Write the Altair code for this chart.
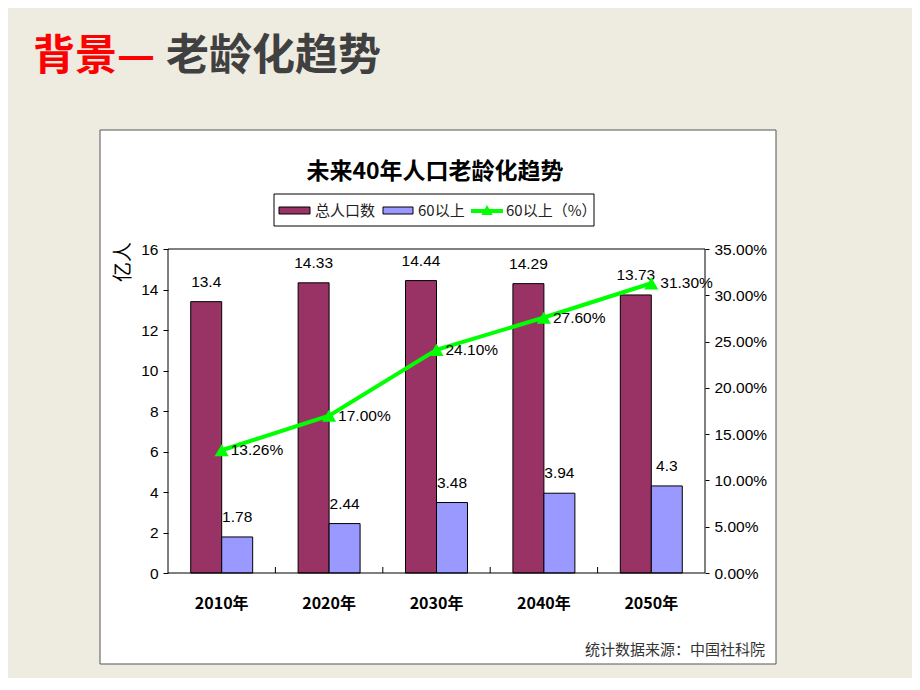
import altair as alt
import pandas as pd

# ---------------- data ----------------
years = ["2010年", "2020年", "2030年", "2040年", "2050年"]
series = ["总人口数", "60以上"]
total = [13.4, 14.33, 14.44, 14.29, 13.73]
elderly = [1.78, 2.44, 3.48, 3.94, 4.3]
total_labels = ["13.4", "14.33", "14.44", "14.29", "13.73"]
elderly_labels = ["1.78", "2.44", "3.48", "3.94", "4.3"]
elderly_pct = [0.1326, 0.17, 0.241, 0.276, 0.313]
pct_labels = ["13.26%", "17.00%", "24.10%", "27.60%", "31.30%"]
left_ticks = [0, 2, 4, 6, 8, 10, 12, 14, 16]
right_ticks = [0, 0.05, 0.10, 0.15, 0.20, 0.25, 0.30, 0.35]

bars_df = pd.DataFrame(
    [{"year": y, "series": series[0], "value": v, "label": l} for y, v, l in zip(years, total, total_labels)]
    + [{"year": y, "series": series[1], "value": v, "label": l} for y, v, l in zip(years, elderly, elderly_labels)]
)
line_df = pd.DataFrame({"year": years, "pct": elderly_pct, "label": pct_labels})
bound_df = pd.DataFrame({"year": years[1:]})

# ---------------- style ----------------
W, H = 537, 324
CJK = "Noto Sans CJK SC"
NUM = "Liberation Sans, Arial"
NUMSIZE = 15.5
MAROON, BLUE, GREEN = "#993366", "#9999FF", "#00FF00"
PI = 0.423
one = alt.Data(values=[{"k": 1}])

xscale = alt.Scale(domain=years, paddingInner=PI, paddingOuter=PI / 2)
xaxis = alt.Axis(title=None, labelFont=CJK, labelFontWeight="bold", labelFontSize=16, labelAngle=0,
                 labelColor="black", labelPadding=22, ticks=False, domain=False, zindex=1)
xenc = alt.X("year:N", sort=years, scale=xscale, axis=xaxis)

left_axis = alt.Axis(title=None, values=left_ticks, labelFont=NUM, labelFontSize=NUMSIZE,
                     labelColor="black", tickSize=5, tickColor="black", labelPadding=5,
                     domain=False, grid=False, zindex=1)
right_axis = alt.Axis(title=None, orient="right", values=right_ticks, format=".2%",
                      labelFont=NUM, labelFontSize=NUMSIZE, labelColor="black", tickSize=4,
                      tickColor="black", labelPadding=5, domain=False, grid=False, zindex=1)

# ---------------- decorations ----------------
white_box = alt.Chart(one).mark_rect(fill="white", stroke="#555555", strokeWidth=1).encode(
    x=alt.value(-68), x2=alt.value(608), y=alt.value(-119), y2=alt.value(415))

plot_border = alt.Chart(one).mark_rect(fillOpacity=0, stroke="black", strokeWidth=1).encode(
    x=alt.value(0), x2=alt.value(W), y=alt.value(0), y2=alt.value(H))

slide_title_red = alt.Chart(one).mark_text(
    text="背景—", font=CJK, fontSize=42, fontWeight="bold", color="#FF0000",
    align="left", baseline="middle").encode(x=alt.value(-135), y=alt.value(-192))
slide_title_dark = alt.Chart(one).mark_text(
    text="老龄化趋势", font=CJK, fontSize=43, fontWeight="bold", color="#404040",
    align="left", baseline="middle").encode(x=alt.value(-2), y=alt.value(-192))

chart_title = alt.Chart(one).mark_text(
    text="未来40年人口老龄化趋势", font=CJK, fontSize=23, fontWeight="bold", color="black",
    align="center", baseline="middle").encode(x=alt.value(267), y=alt.value(-77))

y_title = alt.Chart(one).mark_text(
    text="亿人", font=CJK, fontSize=20, color="black", angle=270,
    align="center", baseline="middle").encode(x=alt.value(-44), y=alt.value(13))

source = alt.Chart(one).mark_text(
    text="统计数据来源：中国社科院", font=CJK, fontSize=15, color="#333333",
    align="right", baseline="middle").encode(x=alt.value(597), y=alt.value(401))

# legend (decoration)
leg_box = alt.Chart(one).mark_rect(fill="white", stroke="black", strokeWidth=1).encode(
    x=alt.value(106), x2=alt.value(426), y=alt.value(-55), y2=alt.value(-23))
leg_sw1 = alt.Chart(one).mark_rect(fill=MAROON, stroke="black", strokeWidth=1).encode(
    x=alt.value(111), x2=alt.value(142), y=alt.value(-42), y2=alt.value(-35))
leg_sw2 = alt.Chart(one).mark_rect(fill=BLUE, stroke="black", strokeWidth=1).encode(
    x=alt.value(215), x2=alt.value(245), y=alt.value(-42), y2=alt.value(-35))
leg_line = alt.Chart(one).mark_rule(color=GREEN, strokeWidth=4).encode(
    x=alt.value(303), x2=alt.value(335), y=alt.value(-38))
leg_tri = alt.Chart(one).mark_point(shape="triangle-up", filled=True, size=130, color=GREEN, opacity=1).encode(
    x=alt.value(319), y=alt.value(-39))
leg_t1 = alt.Chart(one).mark_text(text="总人口数", font=CJK, fontSize=15, color="#222222",
                                   align="left", baseline="middle").encode(x=alt.value(147), y=alt.value(-38))
leg_t2 = alt.Chart(one).mark_text(text="60以上", font=CJK, fontSize=15, color="#222222",
                                   align="left", baseline="middle").encode(x=alt.value(250), y=alt.value(-38))
leg_t3 = alt.Chart(one).mark_text(text="60以上（%）", font=CJK, fontSize=15, color="#222222",
                                   align="left", baseline="middle").encode(x=alt.value(338), y=alt.value(-38))

# ---------------- data layers ----------------
yleft = alt.Y("value:Q", scale=alt.Scale(domain=[0, 16], nice=False), axis=left_axis)
xoff = alt.XOffset("series:N", sort=series, scale=alt.Scale(paddingInner=0, paddingOuter=0))

bars = alt.Chart(bars_df).mark_bar(stroke="black", strokeWidth=1).encode(
    x=xenc, xOffset=xoff, y=yleft,
    color=alt.Color("series:N", sort=series, scale=alt.Scale(domain=series, range=[MAROON, BLUE]), legend=None),
)
bar_labels = alt.Chart(bars_df).mark_text(dy=-20, font=NUM, fontSize=NUMSIZE, color="black",
                                          baseline="middle").encode(
    x=xenc, xOffset=xoff, y=yleft, text="label:N")

bounds = alt.Chart(bound_df).mark_rule(color="black", strokeWidth=1, xOffset=-PI * (W / 5) / 2).encode(
    x=alt.X("year:N", sort=years, scale=xscale, axis=xaxis, bandPosition=0),
    y=alt.value(H), y2=alt.value(H - 6))

bar_group = alt.layer(bars, bar_labels, bounds)

yright = alt.Y("pct:Q", scale=alt.Scale(domain=[0, 0.35], nice=False), axis=right_axis)
line = alt.Chart(line_df).mark_line(color=GREEN, strokeWidth=4).encode(x=xenc, y=yright)
pts = alt.Chart(line_df).mark_point(shape="triangle-up", filled=True, size=200, color=GREEN, opacity=1).encode(
    x=xenc, y=yright)
pct_text = alt.Chart(line_df).mark_text(align="left", dx=9, baseline="middle", font=NUM,
                                        fontSize=NUMSIZE, color="black").encode(x=xenc, y=yright, text="label:N")
line_group = alt.layer(line, pts, pct_text)

chart = alt.layer(
    white_box, bar_group, line_group, plot_border,
    slide_title_red, slide_title_dark, chart_title, y_title, source,
    leg_box, leg_sw1, leg_sw2, leg_line, leg_tri, leg_t1, leg_t2, leg_t3,
).resolve_scale(y="independent").properties(
    width=W, height=H,
    autosize=alt.AutoSizeParams(type="none"),
    padding={"left": 160, "top": 241, "right": 207, "bottom": 105},
    background="#EEECE1",
).configure_view(strokeWidth=0)

chart.save("out.html", embed_options={"renderer": "svg", "actions": False})
